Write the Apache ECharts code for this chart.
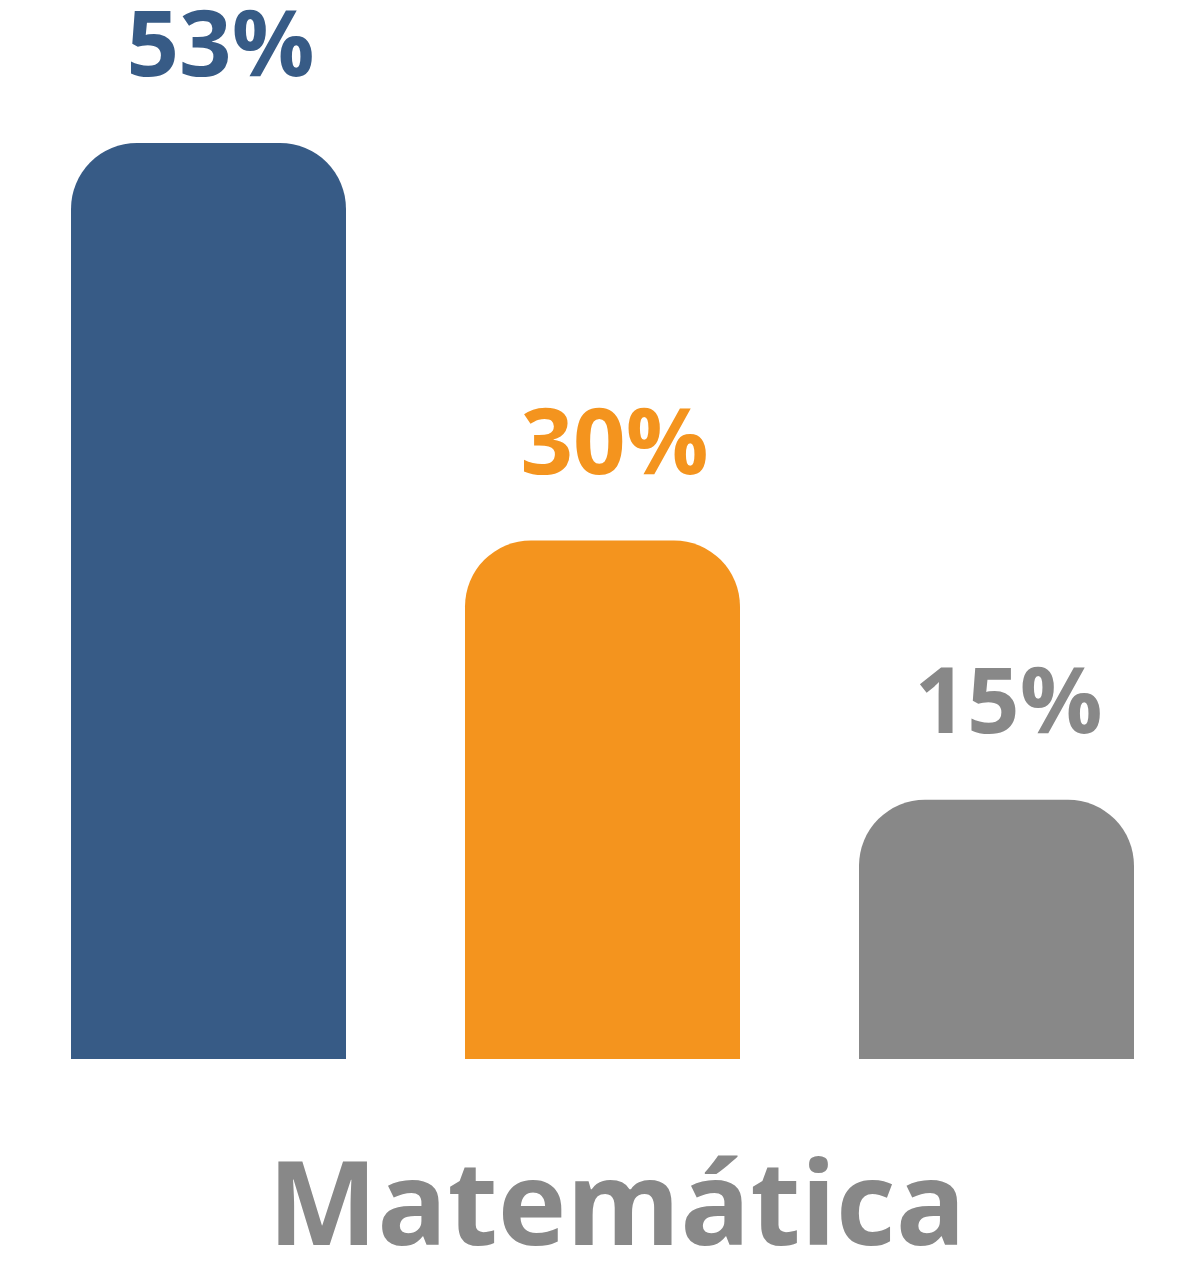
<!DOCTYPE html>
<html>
<head>
<meta charset="utf-8">
<script src="https://cdn.jsdelivr.net/npm/echarts@6/dist/echarts.min.js"></script>
<style>
  html, body { margin: 0; padding: 0; background: #ffffff; }
  #app { width: 1200px; height: 1288px; }
</style>
</head>
<body>
<div id="app"></div>
<script>
// datos
var categorias = ['A', 'B', 'C'];
var valores = [53, 30, 15];
var colores = ['#375B86', '#F4941E', '#888888'];
var titulo = 'Matemática';

var myChart = echarts.init(document.getElementById('app'));

var datos = valores.map(function (v, i) {
    return {
        value: v,
        itemStyle: { color: colores[i] },
        label: { color: colores[i] }
    };
});

var option = {
    backgroundColor: '#ffffff',
    animation: false,
    title: {
        text: titulo,
        left: 268,
        top: 1154,
        padding: 0,
        textStyle: {
            fontFamily: 'Open Sans',
            fontWeight: 'bold',
            fontSize: 116,
            color: '#888888'
        }
    },
    grid: { left: 11.5, right: 6.5, top: 143, bottom: 229 },
    xAxis: {
        type: 'category',
        data: categorias,
        axisLine: { show: false },
        axisTick: { show: false },
        axisLabel: { show: false }
    },
    yAxis: {
        type: 'value',
        min: 0,
        max: 53,
        show: false,
        splitLine: { show: false }
    },
    series: [{
        type: 'bar',
        data: datos,
        barWidth: 275,
        itemStyle: { borderRadius: [66, 66, 0, 0] },
        label: {
            show: true,
            position: 'top',
            distance: 47,
            offset: [12, 0],
            formatter: '{c}%',
            fontFamily: 'Open Sans',
            fontWeight: 'bold',
            fontSize: 92
        }
    }]
};
myChart.setOption(option);
</script>
</body>
</html>
